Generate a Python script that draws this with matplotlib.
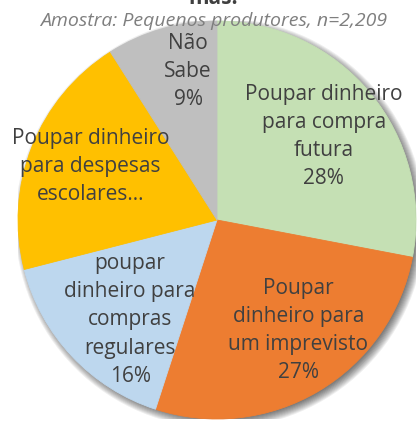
import numpy as np
import matplotlib.pyplot as plt
from matplotlib.patches import Circle

# Destino da poupança - pequenos produtores
categorias = [
    "Poupar dinheiro\npara compra\nfutura",
    "Poupar\ndinheiro para\num imprevisto",
    "poupar\ndinheiro para\ncompras\nregulares",
    "Poupar dinheiro\npara despesas\nescolares…",
    "Não\nSabe",
]
percentagens = [28, 27, 16, 20, 9]
mostra_pct = [True, True, True, False, True]  # rótulo das despesas escolares vem truncado
cores = ["#C5E0B4", "#ED7D31", "#BDD7EE", "#FFC000", "#BFBFBF"]

# posição dos rótulos: fração do raio e desvio do ângulo médio (graus)
dist_rotulo = [0.68, 0.69, 0.665, 0.69, 0.76]
desvio_ang = [-1.6, 5.8, 5.8, -1.4, -5.2]

titulo = "mas."
subtitulo = "Amostra: Pequenos produtores, n=2,209"

plt.rcParams["font.family"] = ["Open Sans", "DejaVu Sans"]

W, H = 417, 421
fig = plt.figure(figsize=(W / 100, H / 100), dpi=100)

# centro e raio da tarta em pixels
cx, cy, r = 217, 220, 199
ax = fig.add_axes([(cx - r) / W, (H - cy - r) / H, 2 * r / W, 2 * r / H])
ax.set_xlim(-1, 1)
ax.set_ylim(-1, 1)
ax.set_aspect("equal")
ax.axis("off")

# sombra suave por baixo da tarta
for k in range(10):
    ax.add_patch(Circle((0.016, -0.016), 0.985 + 0.005 * k, color="black",
                        alpha=0.065, lw=0, zorder=0))

wedges, _ = ax.pie(percentagens, colors=cores, startangle=90, counterclock=False,
                   radius=1, wedgeprops=dict(linewidth=0.6))
for w, c in zip(wedges, cores):
    w.set_edgecolor(c)
    w.set_zorder(2)
ax.set_xlim(-1, 1)
ax.set_ylim(-1, 1)

for w, nome, v, mp, d, da in zip(wedges, categorias, percentagens, mostra_pct,
                                 dist_rotulo, desvio_ang):
    ang = np.deg2rad((w.theta1 + w.theta2) / 2 + da)
    txt = f"{nome}\n{v}%" if mp else nome
    ax.text(d * np.cos(ang), d * np.sin(ang), txt,
            ha="center", va="center", multialignment="center",
            fontsize=15, color="#404040", linespacing=1.45, zorder=3)

fig.text(0.512, 1 - 4 / H, titulo, ha="center", va="baseline",
         fontsize=15, fontweight="bold", color="#404040")
fig.text(0.513, 1 - 26 / H, subtitulo, ha="center", va="baseline",
         fontsize=14, style="italic", color="#7F7F7F", zorder=5)

fig.savefig("out.png", dpi=100)
